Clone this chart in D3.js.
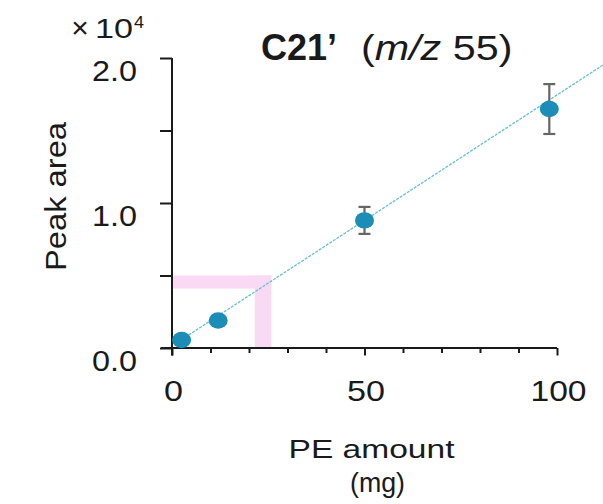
<!DOCTYPE html>
<html>
<head>
<meta charset="utf-8">
<script src="https://cdn.jsdelivr.net/npm/d3@7"></script>
<style>
  html, body { margin: 0; padding: 0; background: #fff; }
  svg { display: block; font-family: "Liberation Sans", Arial, Helvetica, sans-serif; }
</style>
</head>
<body>
<svg id="chart" width="603" height="504"></svg>
<script>
// PE amount (mg) vs peak area (×10^4) for C21' (m/z 55)
const peAmount = [2.5, 12, 50, 98];
const peakArea = [0.055, 0.19, 0.88, 1.648];
const peakErr  = [0.02, 0.03, 0.093, 0.172];

// calibration line: area = slope * amount + intercept
const fitSlope = 0.0173;
const fitIntercept = 0.015;
const fitRange = [2.5, 115];

// highlighted detection band (L-shaped)
const bandX = [21.5, 25.8];
const bandY = [0.41, 0.5];

const xTicks = [0, 10, 20, 30, 40, 50, 60, 70, 80, 90, 100];
const xLabels = [0, 50, 100];
const yTicks = [0, 0.5, 1, 1.5, 2];
const yLabels = [0, 1, 2];

const svg = d3.select("#chart");
const ink = "#1a1a1a";

const x = d3.scaleLinear().domain([0, 100]).range([172, 557]);
const y = d3.scaleLinear().domain([0, 2]).range([348, 58]);

// pink L-shaped band
const band = svg.append("g").attr("fill", "#fad9f4");
band.append("rect")
  .attr("x", x(0)).attr("y", y(bandY[1]))
  .attr("width", x(bandX[1]) - x(0)).attr("height", y(bandY[0]) - y(bandY[1]));
band.append("rect")
  .attr("x", x(bandX[0])).attr("y", y(bandY[1]))
  .attr("width", x(bandX[1]) - x(bandX[0])).attr("height", y(0) - y(bandY[1]));

// axes
const xAxis = svg.append("g")
  .attr("transform", `translate(0,${y(0)})`)
  .call(d3.axisBottom(x).tickValues(xTicks).tickSize(5).tickSizeOuter(0)
    .tickFormat(d => xLabels.includes(d) ? d3.format("d")(d) : ""));
xAxis.select(".domain").attr("d", `M${x(0) - 11},0H${x(100)}`);
xAxis.selectAll(".tick line")
  .attr("y2", d => xLabels.includes(d) ? 7.5 : 5);
const xLen = { 0: 19, 50: 38, 100: 56 };
xAxis.selectAll(".tick text")
  .attr("x", 1).attr("y", 53).attr("dy", 0)
  .attr("font-size", 29)
  .attr("textLength", d => xLen[d] || null)
  .attr("lengthAdjust", "spacingAndGlyphs");

const yAxis = svg.append("g")
  .attr("transform", `translate(${x(0)},0)`)
  .call(d3.axisLeft(y).tickValues(yTicks).tickSize(12).tickSizeOuter(0)
    .tickFormat(d => yLabels.includes(d) ? d3.format(".1f")(d) : ""));
yAxis.select(".domain").attr("d", `M0,${y(2)}V${y(0) + 7.5}`);
yAxis.selectAll(".tick text")
  .attr("x", -35).attr("y", 22).attr("dy", 0)
  .attr("font-size", 29)
  .attr("textLength", d => yLabels.includes(d) ? 45 : null)
  .attr("lengthAdjust", "spacingAndGlyphs");

[xAxis, yAxis].forEach(a => {
  a.selectAll(".domain, .tick line").attr("stroke", ink).attr("stroke-width", 2);
  a.selectAll(".tick text").attr("fill", ink).attr("font-family", null);
  a.attr("font-family", null);
});

// calibration line
svg.append("line")
  .attr("x1", x(fitRange[0])).attr("y1", y(fitSlope * fitRange[0] + fitIntercept))
  .attr("x2", x(fitRange[1])).attr("y2", y(fitSlope * fitRange[1] + fitIntercept))
  .attr("stroke", "#66bfd6").attr("stroke-width", 1.3)
  .attr("stroke-dasharray", "3,1.2");

// error bars
const pts = peAmount.map((v, i) => ({ x: v, y: peakArea[i], e: peakErr[i] }));
const eb = svg.append("g").attr("stroke", "#666").attr("stroke-width", 2.2);
pts.forEach(p => {
  eb.append("line").attr("x1", x(p.x)).attr("x2", x(p.x))
    .attr("y1", y(p.y + p.e)).attr("y2", y(p.y - p.e));
  [p.y + p.e, p.y - p.e].forEach(v => eb.append("line")
    .attr("x1", x(p.x) - 6).attr("x2", x(p.x) + 6)
    .attr("y1", y(v)).attr("y2", y(v)));
});

// data points
svg.append("g").selectAll("ellipse").data(pts).join("ellipse")
  .attr("cx", d => x(d.x)).attr("cy", d => y(d.y))
  .attr("rx", 9.5).attr("ry", 8.2)
  .attr("fill", "#1b8db7");

// axis titles
svg.append("text")
  .attr("transform", "translate(66,196.5) rotate(-90)")
  .attr("text-anchor", "middle").attr("font-size", 30).attr("fill", ink)
  .attr("textLength", 149).attr("lengthAdjust", "spacingAndGlyphs")
  .text("Peak area");

svg.append("text")
  .attr("x", 371.5).attr("y", 458).attr("text-anchor", "middle")
  .attr("font-size", 26).attr("fill", ink)
  .attr("textLength", 166).attr("lengthAdjust", "spacingAndGlyphs")
  .text("PE amount");
svg.append("text")
  .attr("x", 377.5).attr("y", 492).attr("text-anchor", "middle")
  .attr("font-size", 28).attr("fill", ink)
  .attr("textLength", 55).attr("lengthAdjust", "spacingAndGlyphs")
  .text("(mg)");

// multiplier ×10^4
svg.append("text").attr("x", 80).attr("y", 38).attr("text-anchor", "middle")
  .attr("font-size", 30).attr("fill", ink).text("×");
svg.append("text").attr("x", 95).attr("y", 38)
  .attr("font-size", 28).attr("fill", ink)
  .attr("textLength", 38).attr("lengthAdjust", "spacingAndGlyphs").text("10");
svg.append("text").attr("x", 134).attr("y", 28)
  .attr("font-size", 16).attr("fill", ink)
  .attr("textLength", 10).attr("lengthAdjust", "spacingAndGlyphs").text("4");

// title
svg.append("text").attr("x", 261).attr("y", 60)
  .attr("font-size", 36).attr("font-weight", "bold").attr("fill", ink)
  .text("C21’");
const sub = svg.append("text")
  .attr("transform", "translate(361,60) scale(1.18,1)")
  .attr("font-size", 35).attr("fill", ink);
sub.append("tspan").text("(");
sub.append("tspan").attr("font-style", "italic").text("m/z");
sub.append("tspan").text(" 55)");
</script>
</body>
</html>
